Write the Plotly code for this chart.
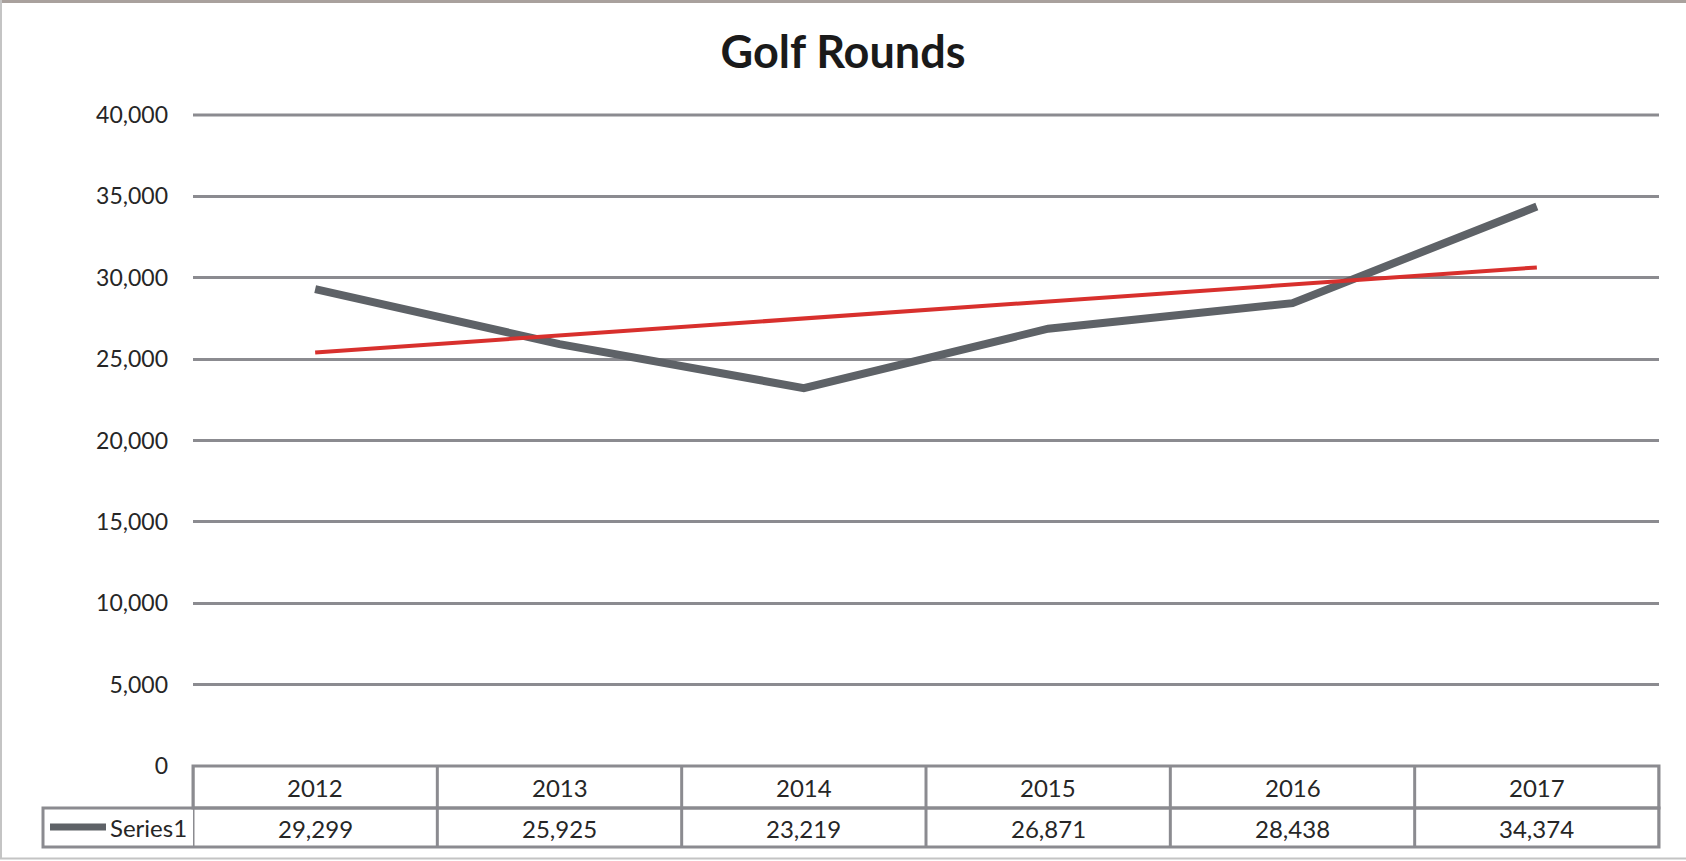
import numpy as np
import plotly.graph_objects as go

# ---- data ----
years = ["2012", "2013", "2014", "2015", "2016", "2017"]
rounds = [29299, 25925, 23219, 26871, 28438, 34374]
series_name = "Series1"
chart_title = "Golf Rounds"
y_tick_vals = [0, 5000, 10000, 15000, 20000, 25000, 30000, 35000, 40000]

# linear trendline (as the spreadsheet's trendline)
xi = np.arange(len(rounds))
coef = np.polyfit(xi, rounds, 1)
trend = np.polyval(coef, xi)

# ---- layout geometry (pixels) ----
W, H = 1686, 861
PL, PR, PT, PB = 193, 1659, 115, 766  # plot area

def px(x):
    return (x - PL) / (PR - PL)

def py(y):
    return (PB - y) / (PB - PT)

GRID = "#8b8b90"
DARK = "#5e6267"
RED = "#d8302d"
TXT = "#262626"
FONT = "Lato"

fig = go.Figure()
fig.add_trace(go.Scatter(x=years, y=rounds, mode="lines", name=series_name,
                         line=dict(color=DARK, width=8), hoverinfo="skip"))
fig.add_trace(go.Scatter(x=years, y=trend, mode="lines", name="Trend",
                         line=dict(color=RED, width=4), hoverinfo="skip"))

shapes = []
# top gridline at the plot's upper edge (plotly drops the edge gridline)
shapes.append(dict(type="line", xref="paper", yref="paper", layer="below",
                   x0=0, x1=1, y0=1, y1=1,
                   line=dict(color=GRID, width=3)))
# table: header row and data row
shapes.append(dict(type="rect", xref="paper", yref="paper",
                   x0=px(PL), x1=px(PR), y0=py(766), y1=py(808),
                   line=dict(color=GRID, width=3)))
shapes.append(dict(type="rect", xref="paper", yref="paper",
                   x0=px(43), x1=px(PR), y0=py(808), y1=py(847),
                   line=dict(color=GRID, width=3)))
# column separators
for i in range(len(years) + 1):
    shapes.append(dict(type="line", xref="x", yref="paper",
                       x0=i - 0.5, x1=i - 0.5, y0=py(766), y1=py(847),
                       line=dict(color=GRID, width=3)))
# legend key
shapes.append(dict(type="line", xref="paper", yref="paper",
                   x0=px(50), x1=px(106), y0=py(827), y1=py(827),
                   line=dict(color=DARK, width=7)))
# outer frame
shapes.append(dict(type="rect", xref="paper", yref="paper",
                   x0=px(0), x1=px(W), y0=py(0), y1=py(3),
                   line=dict(width=0), fillcolor="#a9a19d"))
shapes.append(dict(type="line", xref="paper", yref="paper",
                   x0=px(1), x1=px(1), y0=py(0), y1=py(859),
                   line=dict(color="#c4c4c4", width=2)))
shapes.append(dict(type="line", xref="paper", yref="paper",
                   x0=px(0), x1=px(W), y0=py(858.5), y1=py(858.5),
                   line=dict(color="#c4c4c4", width=2)))

annotations = []
for i, (yr, v) in enumerate(zip(years, rounds)):
    annotations.append(dict(x=i, xref="x", y=py(787), yref="paper",
                            text=yr, showarrow=False,
                            font=dict(family=FONT, size=24, color=TXT),
                            xanchor="center", yanchor="middle"))
    annotations.append(dict(x=i, xref="x", y=py(828), yref="paper",
                            text=f"{v:,}", showarrow=False,
                            font=dict(family=FONT, size=24, color=TXT),
                            xanchor="center", yanchor="middle"))
annotations.append(dict(x=px(108), xref="paper", y=py(827), yref="paper",
                        text=series_name, showarrow=False,
                        font=dict(family=FONT, size=24, color=TXT),
                        xanchor="left", yanchor="middle"))

fig.update_layout(
    width=W, height=H,
    margin=dict(l=PL, r=W - PR, t=PT, b=H - PB, pad=0),
    paper_bgcolor="white", plot_bgcolor="white",
    showlegend=False,
    hovermode=False,
    title=dict(text=f"<b>{chart_title}</b>", x=0.5, xanchor="center",
               y=1 - 52 / H, yref="container", yanchor="middle",
               font=dict(family=FONT, size=45, color="#1a1a1a")),
    xaxis=dict(type="category", range=[-0.5, len(years) - 0.5],
               showticklabels=False, showgrid=False, zeroline=False,
               showline=False, ticks=""),
    yaxis=dict(range=[0, 40000], tickvals=y_tick_vals,
               tickformat=",d", showgrid=True, gridcolor=GRID, gridwidth=3,
               zeroline=False, showline=False, ticks="",
               ticklabelstandoff=24,
               tickfont=dict(family=FONT, size=23, color=TXT)),
    shapes=shapes,
    annotations=annotations,
)

fig.write_html("out.html")
